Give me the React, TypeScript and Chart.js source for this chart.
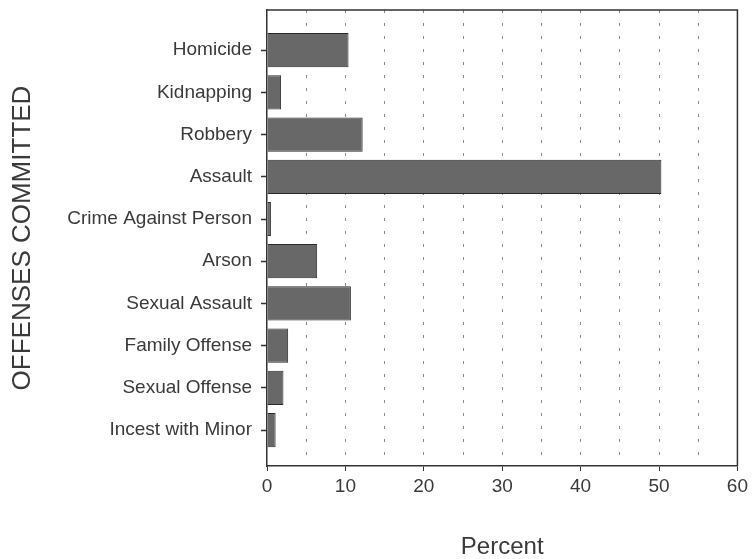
import React, { useEffect, useRef } from "react";
import { Chart, registerables } from "chart.js";

Chart.register(...registerables);

const categories = [
  "Homicide",
  "Kidnapping",
  "Robbery",
  "Assault",
  "Crime Against Person",
  "Arson",
  "Sexual Assault",
  "Family Offense",
  "Sexual Offense",
  "Incest with Minor",
];
const percentValues = [10.4, 1.8, 12.2, 50.3, 0.5, 6.4, 10.7, 2.7, 2.1, 1.1];
const xTickValues = [0, 5, 10, 15, 20, 25, 30, 35, 40, 45, 50, 55, 60];
const xAxisTitle = "Percent";
const yAxisTitle = "OFFENSES COMMITTED";

const FONT = "'Liberation Sans', Arial, Helvetica, sans-serif";
const TEXT = "#3a3a3a";

const framePlugin = {
  id: "frame",
  afterDraw(chart: any) {
    const { ctx, chartArea } = chart;
    ctx.save();
    ctx.strokeStyle = "#333";
    ctx.lineWidth = 1.5;
    ctx.beginPath();
    ctx.moveTo(chartArea.left, chartArea.top);
    ctx.lineTo(chartArea.right, chartArea.top);
    ctx.lineTo(chartArea.right, chartArea.bottom);
    ctx.stroke();
    ctx.restore();
  },
};

export default function App() {
  const ref = useRef<HTMLCanvasElement | null>(null);

  useEffect(() => {
    if (!ref.current) return;
    const chart = new Chart(ref.current, {
      type: "bar",
      data: {
        datasets: [
          {
            data: percentValues.map((v, i) => ({ x: v, y: i })),
            backgroundColor: "#686868",
            borderColor: "#2a2a2a",
            borderWidth: 1,
            categoryPercentage: 1,
            barPercentage: 0.81,
          },
        ],
      },
      options: {
        indexAxis: "y",
        animation: false,
        responsive: false,
        maintainAspectRatio: false,
        layout: { padding: { top: 10, right: 13, left: 0, bottom: 0 } },
        plugins: {
          legend: { display: false },
          tooltip: { enabled: false },
        },
        scales: {
          x: {
            type: "linear",
            min: 0,
            max: 60,
            afterBuildTicks: (scale: any) => {
              scale.ticks = xTickValues.map((v) => ({ value: v }));
            },
            afterFit: (scale: any) => {
              scale.height = 93;
            },
            ticks: {
              autoSkip: false,
              maxRotation: 0,
              padding: 4,
              color: TEXT,
              font: { family: FONT, size: 19 },
              callback: (v: any) => (Number(v) % 10 === 0 ? String(v) : ""),
            },
            grid: {
              display: true,
              drawOnChartArea: true,
              drawTicks: true,
              tickLength: 5,
              lineWidth: 1,
              color: (ctx: any) => {
                const v = ctx.tick ? ctx.tick.value : 0;
                return v === 0 || v === 60 ? "rgba(0,0,0,0)" : "#8a8a8a";
              },
              tickColor: (ctx: any) => {
                const v = ctx.tick ? ctx.tick.value : 0;
                return v % 10 === 0 ? "#333" : "rgba(0,0,0,0)";
              },
            },
            border: { display: true, color: "#333", width: 1.5, dash: [3, 10] },
            title: {
              display: true,
              text: xAxisTitle,
              color: TEXT,
              font: { family: FONT, size: 24, lineHeight: 1 },
              padding: { top: 0, bottom: 0 },
            },
          },
          y: {
            type: "linear",
            reverse: true,
            offset: false,
            min: -0.95,
            max: 9.85,
            afterBuildTicks: (scale: any) => {
              scale.ticks = categories.map((_, i) => ({ value: i }));
            },
            afterFit: (scale: any) => {
              scale.width = 267;
              scale.paddingTop = 0;
              scale.paddingBottom = 0;
            },
            ticks: {
              autoSkip: false,
              padding: 9,
              color: TEXT,
              font: { family: FONT, size: 19 },
              callback: (v: any) => categories[Number(v)] ?? "",
            },
            grid: {
              display: true,
              offset: false,
              drawOnChartArea: false,
              drawTicks: true,
              tickLength: 6,
              tickColor: "#333",
              tickWidth: 1.5,
            },
            border: { display: true, color: "#333", width: 1.5 },
            title: {
              display: true,
              text: yAxisTitle,
              color: TEXT,
              font: { family: FONT, size: 26 },
              padding: { top: 7, bottom: 0 },
            },
          },
        },
      },
      plugins: [framePlugin],
    });
    return () => chart.destroy();
  }, []);

  return (
    <div style={{ position: "fixed", left: 0, top: 0, width: 752, height: 559, background: "#fff" }}>
      <canvas ref={ref} width={752} height={559} style={{ width: 752, height: 559, display: "block" }} />
    </div>
  );
}
